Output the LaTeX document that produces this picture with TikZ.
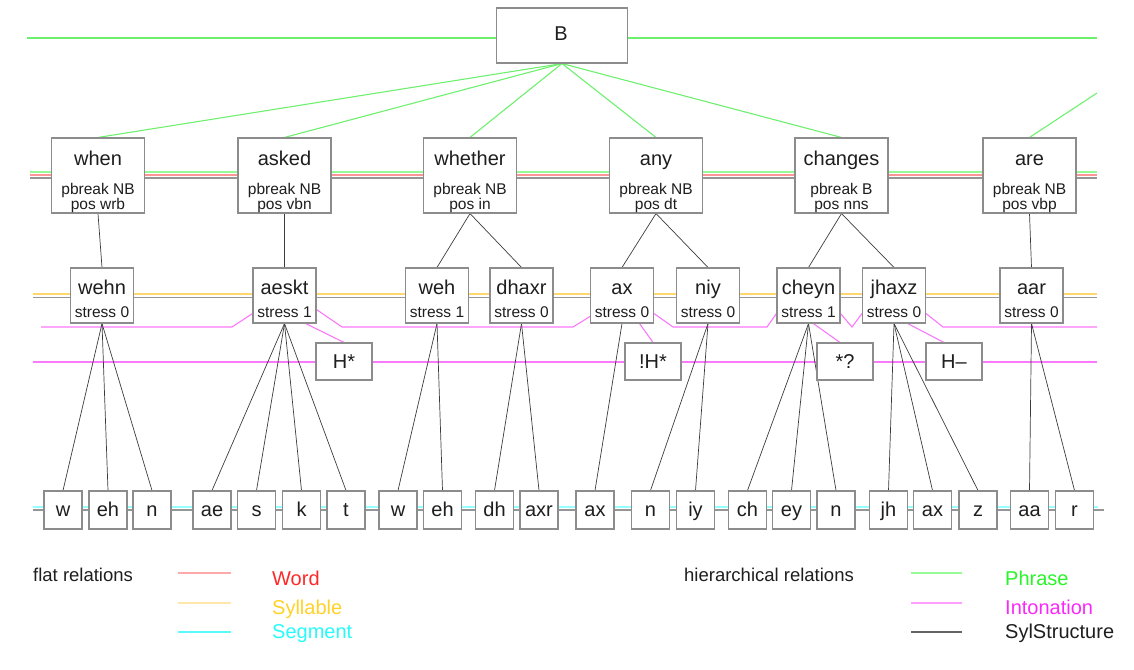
\documentclass[tikz,border=0pt]{standalone}
\usepackage{fontspec}
\setmainfont{Liberation Sans}
\usetikzlibrary{calc}
\pgfdeclarelayer{bg}
\pgfsetlayers{bg,main}

\definecolor{boxgrey}{RGB}{140,140,140}
\definecolor{txt}{RGB}{30,30,30}
\definecolor{tree}{RGB}{60,60,60}
\definecolor{phr}{RGB}{110,240,110}
\definecolor{phrflat}{RGB}{150,250,150}
\definecolor{wrdflat}{RGB}{255,150,150}
\definecolor{sylflat}{RGB}{255,215,110}
\definecolor{segflat}{RGB}{150,255,255}
\definecolor{listgrey}{RGB}{150,150,150}
\definecolor{inton}{RGB}{250,120,250}
\definecolor{lgred}{RGB}{255,40,40}
\definecolor{lgyellow}{RGB}{255,210,40}
\definecolor{lgcyan}{RGB}{40,250,250}
\definecolor{lggreen}{RGB}{40,245,40}
\definecolor{lgmagenta}{RGB}{250,40,250}

\newcommand\bigf{\fontsize{20}{24}\selectfont}
\newcommand\smallf{\fontsize{15.5}{18}\selectfont}
\newcommand\legf{\fontsize{18.5}{22}\selectfont}

\begin{document}
\begin{tikzpicture}[x=1pt,y=-1pt,
  box/.style={draw=boxgrey, fill=white, line width=1.1pt, inner sep=0pt},
  wordbox/.style={box, minimum width=93pt, minimum height=75pt},
  sylbox/.style={box, minimum width=63pt, minimum height=55pt},
  accbox/.style={box, minimum width=56pt, minimum height=37pt},
  segbox/.style={box, minimum width=38pt, minimum height=38pt},
  topbox/.style={box, minimum width=131pt, minimum height=55pt},
  lbl/.style={anchor=base, inner sep=0pt, text=txt, font=\bigf},
  slbl/.style={anchor=base, inner sep=0pt, text=txt, font=\smallf},
  legtxt/.style={anchor=base west, inner sep=0pt, font=\bigf},
  phrase/.style={draw=phr, line width=1.1pt},
  sylstr/.style={draw=tree, line width=0.7pt},
  intonation/.style={draw=inton, line width=1.1pt},
  flat/.style={line width=1.1pt}]
\useasboundingbox (0,0) rectangle (1134,669);

% ---------- utterance node ----------
\node[topbox] (B) at (562,35.5) {};
\node[lbl] (Bt) at (561,41) {B};

% ---------- words ----------
\foreach \n/\x/\w/\p/\q in {
  when/98/when/NB/wrb, asked/284.5/asked/NB/vbn, whether/470/whether/NB/in,
  any/656/any/NB/dt, changes/841.5/changes/B/nns, are/1029.5/are/NB/vbp} {
  \node[wordbox] (\n) at (\x,175.5) {};
  \node[lbl] (\n-name) at (\x,165) {\w};
  \node[slbl] (\n-pb) at (\x,194.5) {pbreak \p};
  \node[slbl] (\n-pos) at (\x,209.5) {pos \q};
}

% ---------- syllables ----------
\foreach \n/\x/\s in {
  wehn/102/0, aeskt/284.5/1, weh/437/1, dhaxr/521.5/0, ax/622/0,
  niy/708/0, cheyn/808.5/1, jhaxz/894/0, aar/1031.5/0} {
  \node[sylbox] (\n) at (\x,295.5) {};
  \node[lbl] (\n-name) at (\x,294) {\n};
  \node[slbl] (\n-st) at (\x,317.5) {stress \s};
}

% ---------- accents ----------
\foreach \n/\x/\t in {Hstar/344/H*, dHstar/653/!H*, qstar/845/*?, Hminus/954/H–} {
  \node[accbox] (\n) at (\x,361.5) {};
  \node[lbl] (\n-name) at (\x,368.5) {\t};
}

% ---------- segments ----------
\foreach \n/\x/\t in {
  s1/63/w, s2/108/eh, s3/152/n, s4/212/ae, s5/256.5/s, s6/301.5/k, s7/346/t,
  s8/398/w, s9/442.5/eh, s10/494.5/dh, s11/539/axr, s12/595/ax, s13/650.5/n,
  s14/695.5/iy, s15/747.5/ch, s16/791.5/ey, s17/836/n, s18/888.5/jh,
  s19/932.5/ax, s20/978/z, s21/1029.5/aa, s22/1074.5/r} {
  \node[segbox] (\n) at (\x,510) {};
  \node[lbl] (\n-name) at (\x,516.5) {\t};
}

% ---------- free ends of the relation lists ----------
\coordinate (phL) at (27,38);    \coordinate (phR) at (1097,38);
\coordinate (wgL) at (30,172);   \coordinate (wgR) at (1097,172);
\coordinate (wrL) at (30,175);   \coordinate (wrR) at (1097,175);
\coordinate (wkL) at (30,178);   \coordinate (wkR) at (1097,178);
\coordinate (syL) at (33,294);   \coordinate (syR) at (1097,294);
\coordinate (skL) at (33,297.5); \coordinate (skR) at (1097,297.5);
\coordinate (i1L) at (41,327);   \coordinate (i1R) at (1097,327);
\coordinate (i2L) at (33,362);   \coordinate (i2R) at (1097,362);
\coordinate (sgL) at (33,507);   \coordinate (sgR) at (1098,507);
\coordinate (sxL) at (33,510);   \coordinate (sxR) at (1104,510);
\coordinate (nextPhrase) at (1097,93);

\begin{pgfonlayer}{bg}
  % flat relations
  \draw[phrase] (phL) -- (phR);
  \draw[flat, phrflat] (wgL) -- (wgR);
  \draw[flat, wrdflat] (wrL) -- (wrR);
  \draw[flat, listgrey] (wkL) -- (wkR);
  \draw[flat, sylflat] (syL) -- (syR);
  \draw[flat, listgrey] (skL) -- (skR);
  \draw[flat, segflat] (sgL) -- (sgR);
  \draw[flat, listgrey] (sxL) -- (sxR);

  % phrase tree
  \foreach \w in {when,asked,whether,any,changes}
    \draw[phrase] (B.south) -- (\w.north);
  \draw[phrase] (are.north) -- (nextPhrase);

  % intonation: syllable list and accents
  \draw[intonation] (i1L) -- (232,327) -- ($(aeskt.south west)+(0,-10)$);
  \draw[intonation] ($(aeskt.south east)+(0,-14)$) -- (342,327) -- (573,327)
      -- ($(ax.south west)+(0,-7)$);
  \draw[intonation] ($(ax.south east)+(0,-10)$) -- (673,327) -- (767,327)
      -- ($(cheyn.south west)+(0,-10)$);
  \draw[intonation] ($(cheyn.south east)+(0,-10)$) -- (852,327)
      -- ($(jhaxz.south west)+(0,-10)$);
  \draw[intonation] ($(jhaxz.south east)+(0,-10)$) -- (943,327) -- (i1R);
  \draw[intonation] (i2L) -- (i2R);
  \draw[intonation] (aeskt.-53) -- (Hstar.north);
  \draw[intonation] (ax.-58) -- (dHstar.north);
  \draw[intonation] (cheyn.-80) -- (qstar.105);
  \draw[intonation] (jhaxz.-64) -- (Hminus.118);

  % syllable structure: words to syllables
  \foreach \a/\b in {when/wehn, asked/aeskt, whether/weh, whether/dhaxr,
      any/ax, any/niy, changes/cheyn, changes/jhaxz, are/aar}
    \draw[sylstr] (\a.south) -- (\b.north);

  % syllable structure: syllables to segments
  \foreach \a/\b in {wehn/s1, wehn/s2, wehn/s3,
      aeskt/s4, aeskt/s5, aeskt/s6, aeskt/s7,
      weh/s8, weh/s9, dhaxr/s10, dhaxr/s11, ax/s12, niy/s13, niy/s14,
      cheyn/s15, cheyn/s16, cheyn/s17, jhaxz/s18, jhaxz/s19, jhaxz/s20,
      aar/s21, aar/s22}
    \draw[sylstr] (\a.south) -- (\b.north);
\end{pgfonlayer}

% ---------- legend ----------
\node[anchor=base west, inner sep=0pt, text=txt, font=\legf] (flatT) at (33,581) {flat relations};
\node[anchor=base west, inner sep=0pt, text=txt, font=\legf] (hierT) at (684,581) {hierarchical relations};

\coordinate (lw0) at (178,573); \coordinate (lw1) at (231,573);
\coordinate (ly0) at (178,603); \coordinate (ly1) at (231,603);
\coordinate (lc0) at (178,632); \coordinate (lc1) at (231,632);
\coordinate (lp0) at (911,573); \coordinate (lp1) at (962,573);
\coordinate (li0) at (911,603); \coordinate (li1) at (962,603);
\coordinate (ls0) at (911,632); \coordinate (ls1) at (962,632);
\draw[flat, draw={rgb,255:red,255;green,170;blue,170}] (lw0) -- (lw1);
\draw[flat, draw={rgb,255:red,255;green,230;blue,170}] (ly0) -- (ly1);
\draw[flat, draw={rgb,255:red,90;green,250;blue,250}] (lc0) -- (lc1);
\draw[flat, draw={rgb,255:red,150;green,250;blue,150}] (lp0) -- (lp1);
\draw[flat, draw={rgb,255:red,255;green,160;blue,255}] (li0) -- (li1);
\draw[flat, draw={rgb,255:red,100;green,100;blue,100}] (ls0) -- (ls1);

\node[legtxt, text=lgred] (lgWord) at (272,585) {Word};
\node[legtxt, text=lgyellow] (lgSyl) at (272,614) {Syllable};
\node[legtxt, text=lgcyan] (lgSeg) at (272,638.5) {Segment};
\node[legtxt, text=lggreen] (lgPhr) at (1005,585) {Phrase};
\node[legtxt, text=lgmagenta] (lgInt) at (1005,614) {Intonation};
\node[legtxt, text=txt] (lgSyS) at (1005,638.5) {SylStructure};
\end{tikzpicture}
\end{document}
